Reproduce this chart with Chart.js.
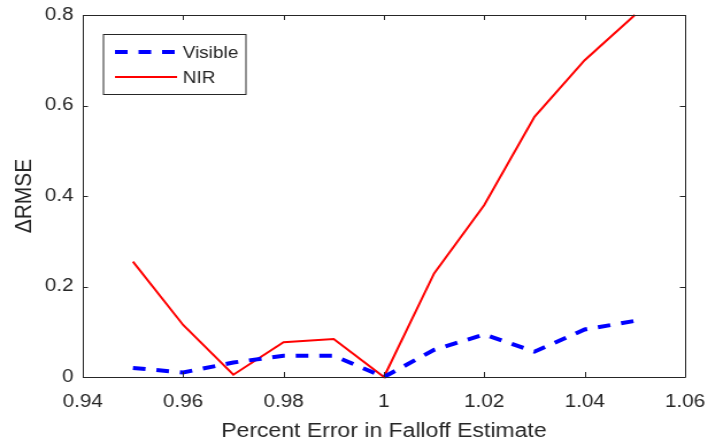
<!DOCTYPE html>
<html>
<head>
<meta charset="utf-8">
<script src="https://cdn.jsdelivr.net/npm/chart.js@4/dist/chart.umd.min.js"></script>
<style>
html,body{margin:0;padding:0;background:#fff;overflow:hidden;}
#wrap{width:616px;height:445px;position:relative;transform:scaleX(1.1494);transform-origin:0 0;}
</style>
</head>
<body>
<div id="wrap"><canvas id="c" width="616" height="445"></canvas></div>
<script>
// ---- data ----
const xValues = [0.95, 0.96, 0.97, 0.98, 0.99, 1.00, 1.01, 1.02, 1.03, 1.04, 1.05];
const visible = [0.020, 0.010, 0.032, 0.047, 0.047, 0.000, 0.060, 0.094, 0.056, 0.105, 0.124];
const nir     = [0.255, 0.115, 0.005, 0.077, 0.084, 0.000, 0.229, 0.380, 0.575, 0.700, 0.800];
const xTickLabels = ['0.94', '0.96', '0.98', '1', '1.02', '1.04', '1.06'];
const yTickLabels = ['0', '0.2', '0.4', '0.6', '0.8'];
const seriesNames = ['Visible', 'NIR'];
const xTitle = 'Percent Error in Falloff Estimate';
const yTitle = '\u0394RMSE';

const AX = '#262626';
const FONT = "'Liberation Sans', Arial, sans-serif";

const boxPlugin = {
  id: 'boxTicks',
  afterDatasetsDraw(chart) {
    const {ctx, chartArea: a, scales: {x, y}} = chart;
    ctx.save();
    ctx.strokeStyle = AX;
    ctx.lineWidth = 1;
    ctx.beginPath();
    ctx.rect(a.left + 0.5, a.top + 0.5, a.right - a.left, a.bottom - a.top);
    ctx.stroke();
    ctx.beginPath();
    x.ticks.forEach(t => {
      const px = Math.round(x.getPixelForValue(t.value)) + 0.5;
      ctx.moveTo(px, a.bottom); ctx.lineTo(px, a.bottom - 5);
      ctx.moveTo(px, a.top); ctx.lineTo(px, a.top + 5);
    });
    y.ticks.forEach(t => {
      const py = Math.round(y.getPixelForValue(t.value)) + 0.5;
      ctx.moveTo(a.left, py); ctx.lineTo(a.left + 4.5, py);
      ctx.moveTo(a.right, py); ctx.lineTo(a.right - 4.5, py);
    });
    ctx.stroke();

    // legend
    const lx = 89.5, ly = 34, lw = 124, lh = 60;
    ctx.fillStyle = '#fff';
    ctx.fillRect(lx, ly, lw, lh);
    ctx.strokeRect(lx + 0.5, ly + 0.5, lw, lh);
    const ds = chart.data.datasets;
    const rows = [52, 77];
    ds.forEach((d, i) => {
      ctx.beginPath();
      ctx.strokeStyle = d.borderColor;
      ctx.lineWidth = d.borderWidth;
      ctx.setLineDash(d.borderDash || []);
      ctx.moveTo(100, rows[i]); ctx.lineTo(154, rows[i]);
      ctx.stroke();
      ctx.setLineDash([]);
      ctx.fillStyle = AX;
      ctx.font = '16.5px ' + FONT;
      ctx.textBaseline = 'middle';
      ctx.textAlign = 'left';
      ctx.fillText(seriesNames[i], 159, rows[i] + 1);
    });
    ctx.restore();
  }
};

new Chart(document.getElementById('c'), {
  type: 'line',
  data: {
    datasets: [
      {
        label: seriesNames[0],
        data: xValues.map((v, i) => ({x: v, y: visible[i]})),
        borderColor: '#0000ff',
        borderWidth: 4,
        borderDash: [11, 9.5],
        pointRadius: 0,
        tension: 0,
        fill: false,
        clip: 6
      },
      {
        label: seriesNames[1],
        data: xValues.map((v, i) => ({x: v, y: nir[i]})),
        borderColor: '#ff0000',
        borderWidth: 2,
        pointRadius: 0,
        tension: 0,
        fill: false,
        clip: 6
      }
    ]
  },
  options: {
    responsive: false,
    animation: false,
    devicePixelRatio: 1,
    layout: {padding: {top: 15, right: 20, left: 0, bottom: 0}},
    plugins: {legend: {display: false}, tooltip: {enabled: false}},
    scales: {
      x: {
        type: 'linear', min: 0.94, max: 1.06,
        afterBuildTicks: s => { s.ticks = xTickLabels.map(l => ({value: parseFloat(l)})); },
        ticks: {
          callback: (v, i) => xTickLabels[i],
          color: AX, font: {family: FONT, size: 18}, padding: 14, maxRotation: 0, autoSkip: false
        },
        grid: {display: false, drawTicks: false},
        border: {display: false},
        title: {display: true, text: xTitle, color: AX, font: {family: FONT, size: 20}, padding: {top: 0, bottom: 2}},
        afterFit: s => { s.height = 68; s.paddingLeft = 0; s.paddingRight = 0; }
      },
      y: {
        type: 'linear', min: 0, max: 0.8,
        afterBuildTicks: s => { s.ticks = yTickLabels.map(l => ({value: parseFloat(l)})); },
        ticks: {
          callback: (v, i) => yTickLabels[i],
          color: AX, font: {family: FONT, size: 18}, padding: 8
        },
        grid: {display: false, drawTicks: false},
        border: {display: false},
        title: {display: true, text: yTitle, color: AX, font: {family: FONT, size: 21}, padding: {top: 9, bottom: 0}},
        afterFit: s => { s.width = 72; s.paddingTop = 0; s.paddingBottom = 0; }
      }
    }
  },
  plugins: [boxPlugin]
});
</script>
</body>
</html>
